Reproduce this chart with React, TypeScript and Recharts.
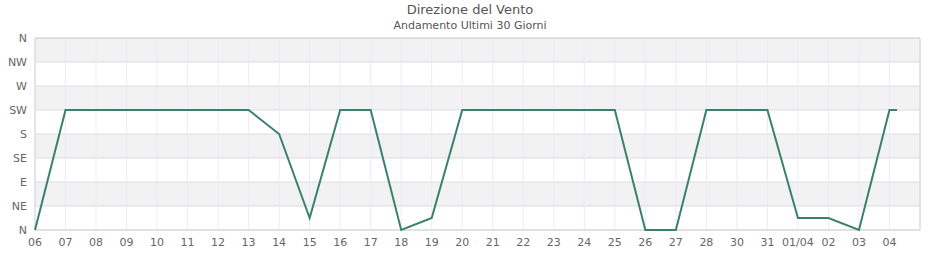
import { CartesianGrid, Line, LineChart, ReferenceArea, XAxis, YAxis } from 'recharts';

const dayLabels = [
  '06', '07', '08', '09', '10', '11', '12', '13', '14', '15', '16', '17', '18', '19', '20',
  '21', '22', '23', '24', '25', '26', '27', '28', '30', '31', '01/04', '02', '03', '04',
];

// direction in degrees, one reading per day (last one is a partial day)
const dayPositions = [
  0, 1, 2, 3, 4, 5, 6, 7, 8, 9, 10, 11, 12, 13, 14,
  15, 16, 17, 18, 19, 20, 21, 22, 23, 24, 25, 26, 27, 28, 28.25,
];
const directionDeg = [
  0, 225, 225, 225, 225, 225, 225, 225, 180, 22.5, 225, 225, 0, 22.5, 225,
  225, 225, 225, 225, 225, 0, 0, 225, 225, 225, 22.5, 22.5, 0, 225, 225,
];

const compassLabels = ['N', 'NE', 'E', 'SE', 'S', 'SW', 'W', 'NW', 'N'];
const compassTicks = [0, 45, 90, 135, 180, 225, 270, 315, 360];

const data = dayPositions.map((x, i) => ({ x, dir: directionDeg[i] }));

const font = '"DejaVu Sans", Verdana, sans-serif';
const tickStyle = { fontSize: 11, fill: '#666666', fontFamily: font };

export default function App() {
  return (
    <div style={{ position: 'absolute', left: 0, top: 0, width: 940, height: 260, background: '#fff', fontFamily: font }}>
      <div style={{ position: 'absolute', top: 2, width: 940, textAlign: 'center', fontSize: 13, color: '#555' }}>
        Direzione del Vento
      </div>
      <div style={{ position: 'absolute', top: 19, width: 940, textAlign: 'center', fontSize: 11, color: '#555' }}>
        Andamento Ultimi 30 Giorni
      </div>
      <LineChart width={940} height={260} data={data} margin={{ top: 38, right: 20, left: 0, bottom: 0 }}>
        <CartesianGrid
          vertical={false}
          stroke="#dddddd"
          horizontalFill={['#f2f2f2', '#ffffff']}
          fillOpacity={1}
        />
        <CartesianGrid horizontal={false} stroke="#ebebf8" />
        <XAxis
          dataKey="x"
          type="number"
          domain={[0, 29]}
          ticks={dayLabels.map((_, i) => i)}
          tickFormatter={(v: number) => dayLabels[v] ?? ''}
          interval={0}
          axisLine={false}
          tickLine={false}
          tick={tickStyle}
          height={30}
        />
        <YAxis
          type="number"
          domain={[0, 360]}
          ticks={compassTicks}
          tickFormatter={(v: number) => compassLabels[compassTicks.indexOf(v)]}
          interval={0}
          axisLine={false}
          tickLine={false}
          tick={tickStyle}
          width={35}
        />
        <ReferenceArea x1={0} x2={29} y1={0} y2={360} fill="none" stroke="#d4d4d4" strokeWidth={1} />
        <Line
          type="linear"
          dataKey="dir"
          stroke="#3b806e"
          strokeWidth={2}
          dot={false}
          isAnimationActive={false}
        />
      </LineChart>
    </div>
  );
}
